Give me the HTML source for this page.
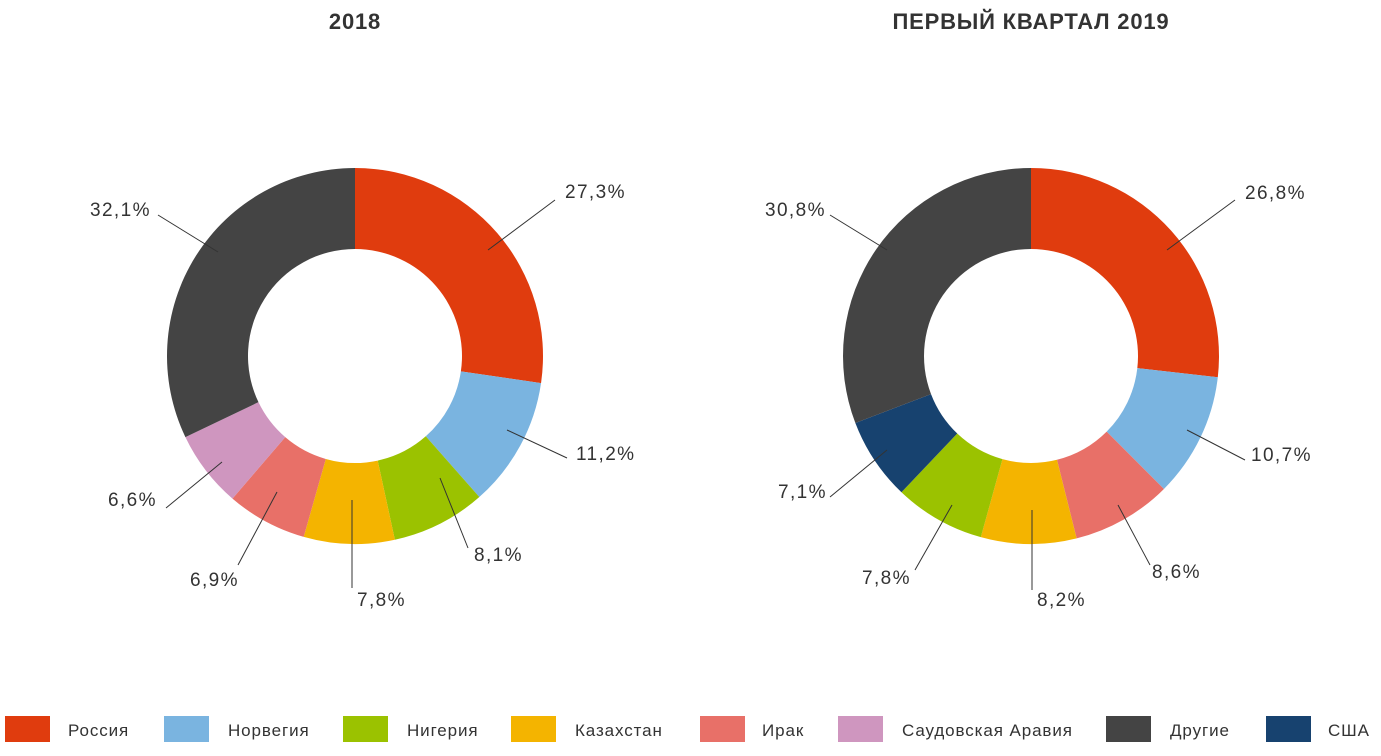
<!DOCTYPE html>
<html><head><meta charset="utf-8"><style>
body{margin:0;background:#fff;width:1381px;height:756px;overflow:hidden}
svg{display:block;font-family:"Liberation Sans",sans-serif}
</style></head><body>
<svg id="s" width="1381" height="756" xmlns="http://www.w3.org/2000/svg">
<text x="355" y="29" text-anchor="middle" font-size="22" font-weight="bold" fill="#333" letter-spacing="0.8">2018</text>
<text x="1031" y="29" text-anchor="middle" font-size="22" font-weight="bold" fill="#333" letter-spacing="0.8">ПЕРВЫЙ КВАРТАЛ 2019</text>
<g id="d1"></g><g id="d2"></g>
<g stroke="#333" stroke-width="1">
<line x1="488" y1="250" x2="555" y2="200"/><line x1="507" y1="430" x2="567" y2="458"/>
<line x1="440" y1="478" x2="468" y2="548"/><line x1="352" y1="500" x2="352" y2="588"/>
<line x1="277" y1="492" x2="238" y2="565"/><line x1="222" y1="462" x2="166" y2="508"/>
<line x1="218" y1="252" x2="158" y2="215"/>
<line x1="1167" y1="250" x2="1235" y2="200"/><line x1="1187" y1="430" x2="1245" y2="460"/>
<line x1="1118" y1="505" x2="1150" y2="565"/><line x1="1032" y1="510" x2="1032" y2="590"/>
<line x1="952" y1="505" x2="915" y2="570"/><line x1="887" y1="450" x2="830" y2="497"/>
<line x1="887" y1="250" x2="830" y2="215"/>
</g>
<g font-size="19" fill="#333" letter-spacing="1.4">
<text x="565" y="198">27,3%</text><text x="576" y="460">11,2%</text><text x="474" y="561">8,1%</text>
<text x="357" y="606">7,8%</text><text x="190" y="586">6,9%</text><text x="108" y="506">6,6%</text><text x="90" y="216">32,1%</text>
<text x="1245" y="199">26,8%</text><text x="1251" y="461">10,7%</text><text x="1152" y="578">8,6%</text>
<text x="1037" y="606">8,2%</text><text x="862" y="584">7,8%</text><text x="778" y="498">7,1%</text><text x="765" y="216">30,8%</text>
</g>
<g font-size="17" fill="#333" letter-spacing="0.9">
<rect x="5" y="716" width="45" height="26" fill="#e03c0e"/><text x="68" y="736">Россия</text>
<rect x="164" y="716" width="45" height="26" fill="#7ab4e0"/><text x="228" y="736">Норвегия</text>
<rect x="343" y="716" width="45" height="26" fill="#9bc200"/><text x="407" y="736">Нигерия</text>
<rect x="511" y="716" width="45" height="26" fill="#f4b400"/><text x="575" y="736">Казахстан</text>
<rect x="700" y="716" width="45" height="26" fill="#e87068"/><text x="762" y="736">Ирак</text>
<rect x="838" y="716" width="45" height="26" fill="#cf96bf"/><text x="902" y="736">Саудовская Аравия</text>
<rect x="1106" y="716" width="45" height="26" fill="#444"/><text x="1170" y="736">Другие</text>
<rect x="1266" y="716" width="45" height="26" fill="#17426f"/><text x="1328" y="736">США</text>
</g>
</svg>
<script>
function donut(id,cx,cy,data){
 var g=document.getElementById(id),R=188,r=107,a=0,h='';
 data.forEach(function(d){
  var a0=a/100*2*Math.PI,a1=(a+d[0])/100*2*Math.PI;a+=d[0];
  var L=(a1-a0)>Math.PI?1:0;
  function p(rad,an){return (cx+rad*Math.sin(an)).toFixed(2)+','+(cy-rad*Math.cos(an)).toFixed(2);}
  h+='<path fill="'+d[1]+'" d="M'+p(R,a0)+'A'+R+','+R+' 0 '+L+' 1 '+p(R,a1)+'L'+p(r,a1)+'A'+r+','+r+' 0 '+L+' 0 '+p(r,a0)+'Z"/>';
 });
 g.innerHTML=h;
}
donut('d1',355,356,[[27.3,'#e03c0e'],[11.2,'#7ab4e0'],[8.1,'#9bc200'],[7.8,'#f4b400'],[6.9,'#e87068'],[6.6,'#cf96bf'],[32.1,'#444444']]);
donut('d2',1031,356,[[26.8,'#e03c0e'],[10.7,'#7ab4e0'],[8.6,'#e87068'],[8.2,'#f4b400'],[7.8,'#9bc200'],[7.1,'#17426f'],[30.8,'#444444']]);
</script>
</body></html>
